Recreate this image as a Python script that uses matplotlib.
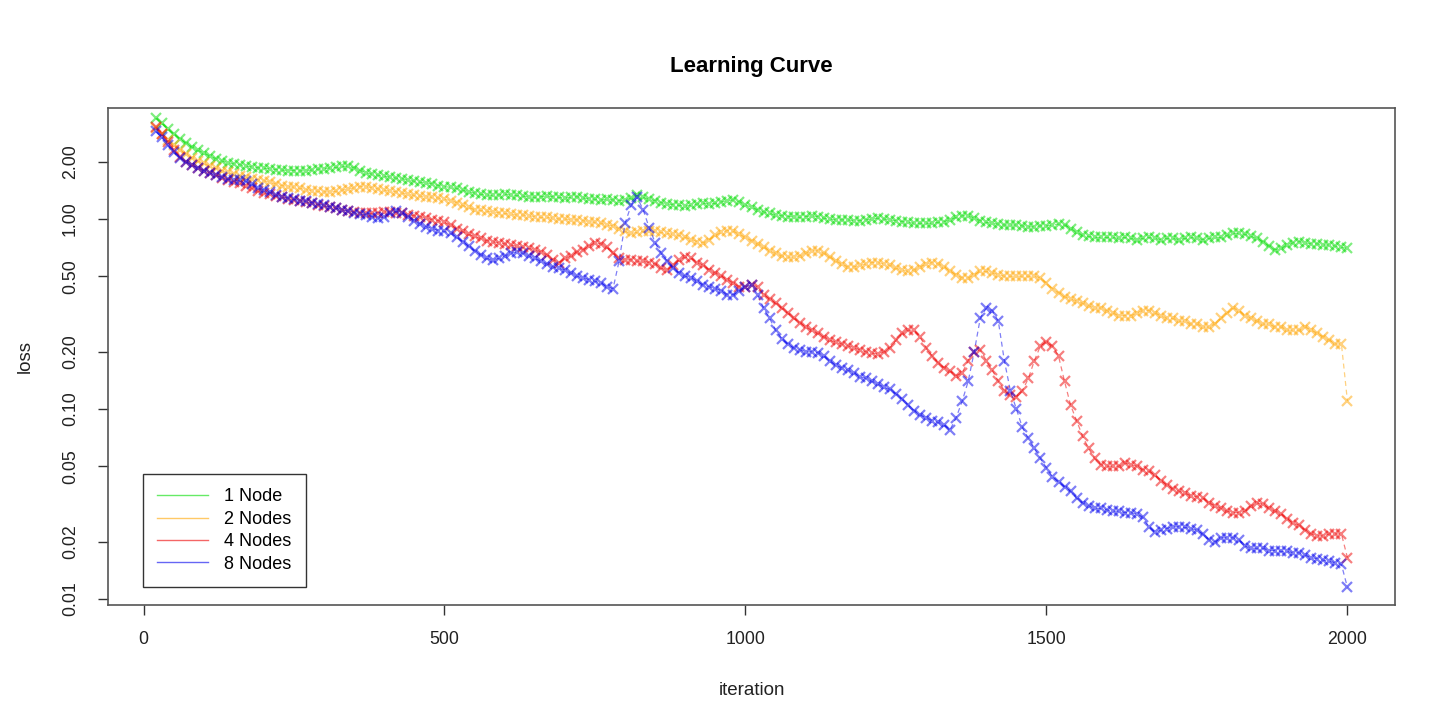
import matplotlib
matplotlib.use("Agg")
import matplotlib.pyplot as plt
from matplotlib.ticker import FixedLocator, FixedFormatter, NullLocator

plt.rcParams['font.family'] = ['Liberation Sans', 'DejaVu Sans']

# iterations 20, 30, ..., 2000
iters = list(range(20, 2001, 10))

node1 = [
    3.4, 3.2, 2.98, 2.8, 2.65, 2.52, 2.40, 2.30, 2.22, 2.15,
    2.08, 2.02, 1.98, 1.95, 1.93, 1.90, 1.88, 1.86, 1.85, 1.84,
    1.82, 1.81, 1.80, 1.80, 1.79, 1.80, 1.81, 1.83, 1.84, 1.86,
    1.87, 1.89, 1.90, 1.86, 1.80, 1.75, 1.72, 1.70, 1.68, 1.66,
    1.64, 1.63, 1.60, 1.58, 1.56, 1.55, 1.53, 1.50, 1.48, 1.47,
    1.45, 1.42, 1.39, 1.37, 1.35, 1.34, 1.33, 1.34, 1.35, 1.34,
    1.33, 1.32, 1.31, 1.30, 1.31, 1.32, 1.31, 1.30, 1.29, 1.30,
    1.31, 1.29, 1.28, 1.27, 1.26, 1.27, 1.26, 1.25, 1.26, 1.29,
    1.33, 1.30, 1.27, 1.25, 1.22, 1.20, 1.19, 1.18, 1.17, 1.18,
    1.20, 1.21, 1.20, 1.21, 1.23, 1.25, 1.26, 1.23, 1.19, 1.15,
    1.12, 1.09, 1.07, 1.05, 1.04, 1.03, 1.03, 1.02, 1.03, 1.04,
    1.03, 1.01, 1.00, 0.99, 0.99, 0.99, 0.98, 0.98, 0.99, 1.00,
    1.01, 1.00, 0.99, 0.98, 0.97, 0.96, 0.95, 0.95, 0.95, 0.95,
    0.96, 0.97, 0.99, 1.02, 1.04, 1.04, 1.01, 0.98, 0.96, 0.95,
    0.94, 0.93, 0.93, 0.93, 0.92, 0.91, 0.91, 0.92, 0.92, 0.93,
    0.94, 0.93, 0.89, 0.85, 0.82, 0.81, 0.80, 0.80, 0.80, 0.80,
    0.79, 0.80, 0.79, 0.78, 0.79, 0.80, 0.79, 0.78, 0.79, 0.79,
    0.78, 0.79, 0.80, 0.79, 0.78, 0.79, 0.80, 0.80, 0.82, 0.84,
    0.84, 0.83, 0.81, 0.79, 0.76, 0.72, 0.69, 0.70, 0.73, 0.75,
    0.76, 0.75, 0.74, 0.74, 0.73, 0.73, 0.72, 0.71, 0.70,
]

node2 = [
    3.0, 2.8, 2.6, 2.45, 2.3, 2.2, 2.1, 2.02, 1.96, 1.90,
    1.85, 1.80, 1.76, 1.72, 1.69, 1.66, 1.63, 1.61, 1.59, 1.56,
    1.53, 1.50, 1.48, 1.47, 1.45, 1.43, 1.41, 1.40, 1.39, 1.39,
    1.40, 1.42, 1.44, 1.46, 1.48, 1.48, 1.46, 1.44, 1.42, 1.40,
    1.39, 1.37, 1.35, 1.33, 1.32, 1.31, 1.30, 1.29, 1.27, 1.25,
    1.22, 1.18, 1.15, 1.12, 1.11, 1.10, 1.09, 1.08, 1.07, 1.06,
    1.05, 1.05, 1.04, 1.03, 1.02, 1.02, 1.01, 1.00, 1.00, 0.99,
    0.99, 0.98, 0.97, 0.96, 0.95, 0.93, 0.92, 0.89, 0.86, 0.84,
    0.85, 0.86, 0.87, 0.86, 0.85, 0.84, 0.83, 0.82, 0.80, 0.78,
    0.76, 0.75, 0.78, 0.82, 0.85, 0.87, 0.86, 0.83, 0.80, 0.77,
    0.74, 0.71, 0.68, 0.66, 0.64, 0.63, 0.63, 0.64, 0.66, 0.68,
    0.68, 0.66, 0.63, 0.60, 0.58, 0.56, 0.56, 0.57, 0.58, 0.59,
    0.59, 0.58, 0.57, 0.55, 0.54, 0.53, 0.54, 0.56, 0.58, 0.59,
    0.58, 0.56, 0.53, 0.51, 0.49, 0.49, 0.51, 0.53, 0.53, 0.52,
    0.51, 0.50, 0.50, 0.50, 0.50, 0.50, 0.50, 0.49, 0.46, 0.43,
    0.41, 0.39, 0.38, 0.37, 0.36, 0.35, 0.34, 0.34, 0.33, 0.32,
    0.31, 0.31, 0.31, 0.32, 0.33, 0.33, 0.32, 0.31, 0.30, 0.30,
    0.29, 0.29, 0.28, 0.28, 0.27, 0.27, 0.28, 0.30, 0.32, 0.34,
    0.33, 0.31, 0.30, 0.29, 0.28, 0.28, 0.27, 0.27, 0.26, 0.26,
    0.26, 0.27, 0.26, 0.25, 0.24, 0.23, 0.22, 0.22, 0.11,
]

node4 = [
    3.05, 2.8, 2.55, 2.3, 2.12, 2.0, 1.92, 1.86, 1.80, 1.75,
    1.70, 1.65, 1.61, 1.57, 1.54, 1.50, 1.45, 1.40, 1.37, 1.35,
    1.32, 1.30, 1.28, 1.26, 1.25, 1.23, 1.21, 1.19, 1.17, 1.16,
    1.14, 1.12, 1.10, 1.09, 1.08, 1.07, 1.07, 1.08, 1.09, 1.09,
    1.08, 1.07, 1.05, 1.04, 1.03, 1.01, 0.99, 0.98, 0.96, 0.93,
    0.89, 0.86, 0.83, 0.81, 0.79, 0.77, 0.76, 0.75, 0.74, 0.73,
    0.72, 0.71, 0.70, 0.69, 0.67, 0.65, 0.61, 0.59, 0.62, 0.64,
    0.67, 0.69, 0.72, 0.75, 0.74, 0.71, 0.66, 0.62, 0.61, 0.61,
    0.60, 0.60, 0.59, 0.58, 0.55, 0.54, 0.57, 0.61, 0.63, 0.62,
    0.59, 0.57, 0.54, 0.52, 0.50, 0.48, 0.46, 0.44, 0.44, 0.45,
    0.44, 0.40, 0.38, 0.36, 0.34, 0.32, 0.30, 0.285, 0.27, 0.26,
    0.25, 0.24, 0.23, 0.225, 0.22, 0.215, 0.21, 0.205, 0.20, 0.197,
    0.195, 0.20, 0.21, 0.23, 0.25, 0.26, 0.26, 0.24, 0.21, 0.19,
    0.175, 0.165, 0.158, 0.15, 0.155, 0.18, 0.20, 0.205, 0.18, 0.16,
    0.14, 0.125, 0.118, 0.116, 0.125, 0.145, 0.18, 0.215, 0.225, 0.215,
    0.19, 0.14, 0.105, 0.087, 0.072, 0.062, 0.055, 0.051, 0.050, 0.050,
    0.050, 0.052, 0.051, 0.050, 0.048, 0.047, 0.045, 0.042, 0.040, 0.038,
    0.037, 0.036, 0.035, 0.0345, 0.034, 0.032, 0.031, 0.030, 0.029, 0.0285,
    0.0285, 0.029, 0.031, 0.032, 0.0315, 0.030, 0.029, 0.028, 0.0265, 0.025,
    0.0245, 0.023, 0.022, 0.0215, 0.0215, 0.022, 0.022, 0.022, 0.0165,
]

node8 = [
    2.9, 2.7, 2.45, 2.25, 2.1, 2.0, 1.92, 1.86, 1.80, 1.75,
    1.70, 1.66, 1.62, 1.60, 1.60, 1.58, 1.52, 1.46, 1.42, 1.38,
    1.34, 1.31, 1.29, 1.27, 1.25, 1.24, 1.22, 1.20, 1.18, 1.16,
    1.14, 1.12, 1.10, 1.08, 1.06, 1.05, 1.03, 1.01, 1.03, 1.07,
    1.10, 1.08, 1.03, 0.98, 0.94, 0.91, 0.89, 0.87, 0.86, 0.84,
    0.80, 0.76, 0.72, 0.68, 0.65, 0.62, 0.61, 0.62, 0.64, 0.66,
    0.67, 0.66, 0.64, 0.62, 0.60, 0.58, 0.56, 0.55, 0.54, 0.52,
    0.50, 0.49, 0.48, 0.47, 0.46, 0.44, 0.43, 0.60, 0.95, 1.18,
    1.30, 1.12, 0.90, 0.75, 0.66, 0.60, 0.55, 0.52, 0.50, 0.49,
    0.47, 0.45, 0.44, 0.43, 0.42, 0.40, 0.40, 0.42, 0.44, 0.45,
    0.40, 0.34, 0.30, 0.26, 0.235, 0.22, 0.21, 0.205, 0.20, 0.20,
    0.198, 0.19, 0.178, 0.17, 0.165, 0.16, 0.155, 0.148, 0.145, 0.14,
    0.135, 0.13, 0.127, 0.12, 0.113, 0.105, 0.098, 0.093, 0.09, 0.087,
    0.085, 0.082, 0.078, 0.09, 0.11, 0.14, 0.20, 0.30, 0.34, 0.33,
    0.29, 0.18, 0.125, 0.10, 0.08, 0.07, 0.062, 0.055, 0.049, 0.044,
    0.0415, 0.039, 0.037, 0.034, 0.032, 0.031, 0.030, 0.030, 0.0295, 0.029,
    0.029, 0.0285, 0.0285, 0.028, 0.027, 0.024, 0.0225, 0.023, 0.0235, 0.024,
    0.024, 0.0238, 0.0235, 0.023, 0.022, 0.0205, 0.020, 0.021, 0.021, 0.021,
    0.0205, 0.019, 0.0185, 0.0185, 0.0185, 0.018, 0.018, 0.0178, 0.0178, 0.0175,
    0.0175, 0.017, 0.0165, 0.0163, 0.016, 0.0158, 0.0155, 0.0152, 0.0115,
]

labels = ['1 Node', '2 Nodes', '4 Nodes', '8 Nodes']
colors = ['#00dd00', '#ffa500', '#ee0000', '#0000ee']
yticks = [0.01, 0.02, 0.05, 0.10, 0.20, 0.50, 1.00, 2.00]
ytick_labels = ['0.01', '0.02', '0.05', '0.10', '0.20', '0.50', '1.00', '2.00']
xticks = [0, 500, 1000, 1500, 2000]

fig = plt.figure(figsize=(14.3, 7.25), dpi=100)
ax = fig.add_axes([108 / 1430, 1 - 605 / 725, (1395 - 108) / 1430, (605 - 108) / 725])

for ys, c, lab in zip([node1, node2, node4, node8], colors, labels):
    ax.plot(iters, ys, color=c, alpha=0.5, linestyle=(0, (4, 3)), linewidth=0.9,
            marker='x', markersize=6.5, markeredgewidth=1.6)
    ax.plot([], [], color=c, alpha=0.6, linewidth=1.0, label=lab)

ax.set_yscale('log')
ax.set_xlim(-59, 2079)
ax.set_ylim(0.0093, 3.84)
ax.xaxis.set_major_locator(FixedLocator(xticks))
ax.yaxis.set_major_locator(FixedLocator(yticks))
ax.yaxis.set_major_formatter(FixedFormatter(ytick_labels))
ax.yaxis.set_minor_locator(NullLocator())
ax.tick_params(axis='both', direction='out', length=7, width=1, colors='#333333',
               labelsize=12.8, labelcolor='#222222')
ax.tick_params(axis='x', pad=12)
ax.tick_params(axis='y', pad=14)
for lbl in ax.get_yticklabels():
    lbl.set_rotation(90)
    lbl.set_va('center')

for s in ax.spines.values():
    s.set_color('#555555')
    s.set_linewidth(1.2)

ax.set_xlabel('iteration', fontsize=13.5, labelpad=24, color='#222222')
ax.set_ylabel('loss', fontsize=13.5, labelpad=20, color='#222222')
ax.set_title('Learning Curve', fontsize=16, fontweight='bold', pad=26)

leg = ax.legend(loc='lower left', bbox_to_anchor=(0.027, 0.036), fontsize=13,
                frameon=True, fancybox=False, edgecolor='#333333', framealpha=1,
                borderpad=0.8, handlelength=2.8, handletextpad=0.9, labelspacing=0.3,
                borderaxespad=0)
leg.get_frame().set_linewidth(1.0)

fig.savefig('out.png', dpi=100)
